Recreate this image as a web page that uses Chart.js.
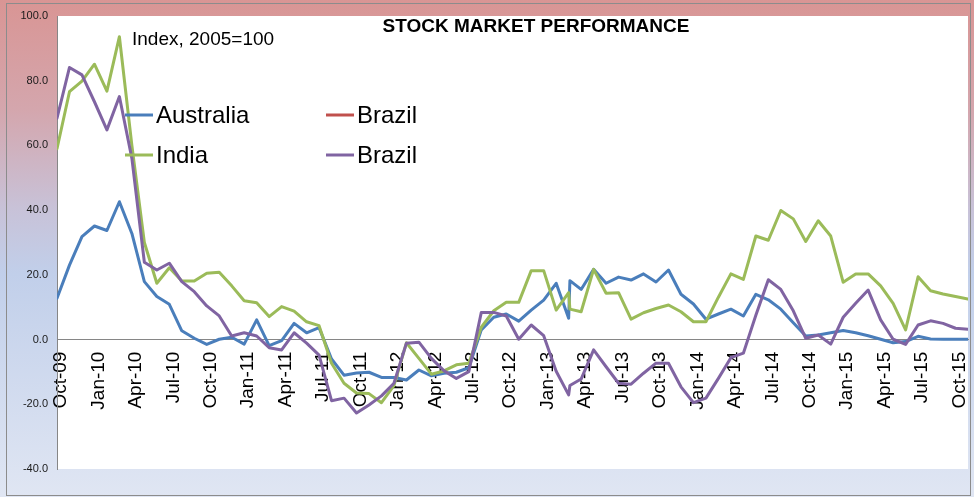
<!DOCTYPE html>
<html>
<head>
<meta charset="utf-8">
<script src="https://cdn.jsdelivr.net/npm/chart.js@4.4.1/dist/chart.umd.min.js"></script>
<style>
  body { margin: 0; background: #fff; }
  #wrap { width: 974px; height: 497px; }
</style>
</head>
<body>
<div id="wrap"><canvas id="stockChart" width="974" height="497"></canvas></div>
<script>
// month offsets from Oct-09 (Mar-13 has two readings)
const months = [0, 1, 2, 3, 4, 5, 6, 7, 8, 9,
    10, 11, 12, 13, 14, 15, 16, 17, 18, 19,
    20, 21, 22, 23, 24, 25, 26, 27, 28, 29,
    30, 31, 32, 33, 34, 35, 36, 37, 38, 39,
    40, 41, 41.1, 42, 43, 44, 45, 46, 47, 48,
    49, 50, 51, 52, 53, 54, 55, 56, 57, 58,
    59, 60, 61, 62, 63, 64, 65, 66, 67, 68,
    69, 70, 71, 72, 73];

const tickLabels = ['Oct-09', 'Jan-10', 'Apr-10', 'Jul-10', 'Oct-10', 'Jan-11', 'Apr-11', 'Jul-11',
    'Oct-11', 'Jan-12', 'Apr-12', 'Jul-12', 'Oct-12', 'Jan-13', 'Apr-13', 'Jul-13', 'Oct-13',
    'Jan-14', 'Apr-14', 'Jul-14', 'Oct-14', 'Jan-15', 'Apr-15', 'Jul-15', 'Oct-15'];

const australia = [12.8, 23.0, 31.8, 35.1, 33.7, 42.6, 32.8, 17.9, 13.3, 10.9,
    2.7, 0.4, -1.5, 0.1, 0.7, -1.4, 6.1, -1.9, -0.3, 5.0,
    2.1, 3.7, -6.0, -11.0, -10.3, -10.1, -11.7, -11.7, -12.5, -9.4,
    -11.2, -10.4, -10.1, -8.7, 3.0, 6.9, 7.9, 5.7, 9.1, 12.2,
    17.4, 6.6, 18.2, 15.5, 21.7, 17.4, 19.3, 18.4, 20.3, 17.8,
    21.5, 14.0, 11.0, 6.3, 7.9, 9.4, 7.3, 14.0, 12.3, 9.4,
    5.2, 1.1, 1.4, 2.1, 2.8, 2.1, 1.2, 0.1, -1.0, -0.6,
    1.0, 0.2, 0.1, 0.1, 0.1];

const brazilRed = [];

const india = [59.0, 76.6, 79.9, 85.1, 76.8, 93.6, 60.0, 30.0, 17.4, 22.2,
    18.1, 18.1, 20.5, 20.8, 16.6, 12.0, 11.4, 7.1, 10.2, 8.8,
    5.5, 4.3, -7.3, -13.5, -16.5, -16.7, -19.5, -14.2, -1.0, -5.8,
    -10.7, -9.7, -7.8, -7.3, 3.8, 8.9, 11.5, 11.5, 21.3, 21.3,
    9.1, 14.5, 9.4, 8.6, 21.7, 14.3, 14.5, 6.3, 8.3, 9.6,
    10.7, 8.6, 5.5, 5.5, 13.1, 20.3, 18.6, 32.0, 30.7, 39.9,
    37.3, 30.3, 36.7, 32.0, 17.7, 20.3, 20.3, 16.6, 11.2, 3.0,
    19.4, 15.1, 14.1, 13.3, 12.5];

const brazil = [68.4, 84.1, 81.8, 73.5, 64.8, 75.1, 56.0, 23.9, 21.5, 23.6,
    17.9, 14.8, 10.4, 7.3, 1.1, 2.1, 1.1, -2.5, -3.2, 2.1,
    -1.1, -4.8, -18.9, -18.1, -22.7, -20.2, -17.4, -13.5, -1.1, -0.8,
    -5.8, -9.6, -12.0, -9.9, 8.4, 8.4, 7.3, 0.1, 4.5, 1.2,
    -9.8, -17.1, -14.2, -12.2, -3.2, -8.4, -13.5, -13.8, -10.4, -7.3,
    -7.3, -14.6, -19.5, -18.1, -12.0, -5.6, -4.2, 7.5, 18.5, 15.5,
    8.9, 0.4, 1.4, -1.4, 6.9, 11.2, 15.3, 6.1, 0.1, -1.5,
    4.5, 5.8, 5.0, 3.5, 3.2];

const FONT = "'Liberation Sans', Arial, sans-serif";

function pts(vals) {
    return vals.map((v, i) => ({ x: months[i], y: v }));
}

function series(label, vals, color, order) {
    return {
        label: label, data: pts(vals), borderColor: color, backgroundColor: color,
        borderWidth: 3, pointRadius: 0, tension: 0, order: order,
        borderJoinStyle: 'round', borderCapStyle: 'round'
    };
}

// background gradient + white plot area, then texts and legend on top
const decor = {
    id: 'decor',
    beforeDraw(chart) {
        const ctx = chart.ctx, a = chart.chartArea;
        const g = ctx.createLinearGradient(0, 0, 0, chart.height);
        g.addColorStop(0, '#d99594');
        g.addColorStop(0.22, '#d4a6ad');
        g.addColorStop(0.42, '#c8c2d8');
        g.addColorStop(0.55, '#c1cfea');
        g.addColorStop(1, '#e0e6f3');
        ctx.save();
        ctx.fillStyle = g;
        ctx.fillRect(0, 0, chart.width, chart.height);
        ctx.fillStyle = '#ffffff';
        ctx.fillRect(a.left, a.top, a.right - a.left, a.bottom - a.top);
        ctx.restore();
    },
    afterDraw(chart) {
        const ctx = chart.ctx;
        ctx.save();
        ctx.fillStyle = '#000';
        ctx.textBaseline = 'middle';

        ctx.font = 'bold 19px ' + FONT;
        ctx.textAlign = 'center';
        ctx.fillText('STOCK MARKET PERFORMANCE', 536, 27);

        ctx.font = '19px ' + FONT;
        ctx.textAlign = 'left';
        ctx.fillText('Index, 2005=100', 132, 40);

        // legend, two columns
        const spots = [[125, 115], [326, 115], [125, 155], [326, 155]];
        ctx.font = '24px ' + FONT;
        chart.data.datasets.forEach((ds, i) => {
            const [x, y] = spots[i];
            ctx.strokeStyle = ds.borderColor;
            ctx.lineWidth = 3;
            ctx.beginPath();
            ctx.moveTo(x, y);
            ctx.lineTo(x + 28, y);
            ctx.stroke();
            ctx.fillStyle = '#000';
            ctx.fillText(ds.label, x + 31, y + 1);
        });

        ctx.strokeStyle = '#8c8c8c';
        ctx.lineWidth = 1;
        ctx.strokeRect(6.5, 3.5, 964, 492);
        ctx.restore();
    }
};

new Chart(document.getElementById('stockChart'), {
    type: 'line',
    data: {
        datasets: [
            series('Australia', australia, '#4a7ebb', 4),
            series('Brazil', brazilRed, '#c0504d', 3),
            series('India', india, '#9bbb59', 2),
            series('Brazil', brazil, '#8064a2', 1)
        ]
    },
    options: {
        responsive: false,
        animation: false,
        layout: { padding: { left: 0, right: 6, top: 16, bottom: 28 } },
        plugins: { legend: { display: false }, tooltip: { enabled: false } },
        scales: {
            x: {
                type: 'linear',
                position: { y: 0 },
                min: 0, max: 73,
                grid: { display: false, drawTicks: false },
                border: { display: true, color: '#868686', width: 1 },
                ticks: {
                    stepSize: 3, autoSkip: false, includeBounds: false,
                    minRotation: 90, maxRotation: 90, padding: 12, labelOffset: 4,
                    color: '#000', font: { family: FONT, size: 19 },
                    callback: v => tickLabels[v / 3]
                },
                afterFit: s => { s.paddingLeft = 0; s.paddingRight = 0; }
            },
            y: {
                min: -40, max: 100,
                grid: { display: false, drawTicks: false },
                border: { display: true, color: '#868686', width: 1 },
                ticks: {
                    stepSize: 20, padding: 9,
                    color: '#1a1a1a', font: { family: FONT, size: 11 },
                    callback: v => v.toFixed(1)
                },
                afterFit: s => { s.width = 57; }
            }
        }
    },
    plugins: [decor]
});
</script>
</body>
</html>
